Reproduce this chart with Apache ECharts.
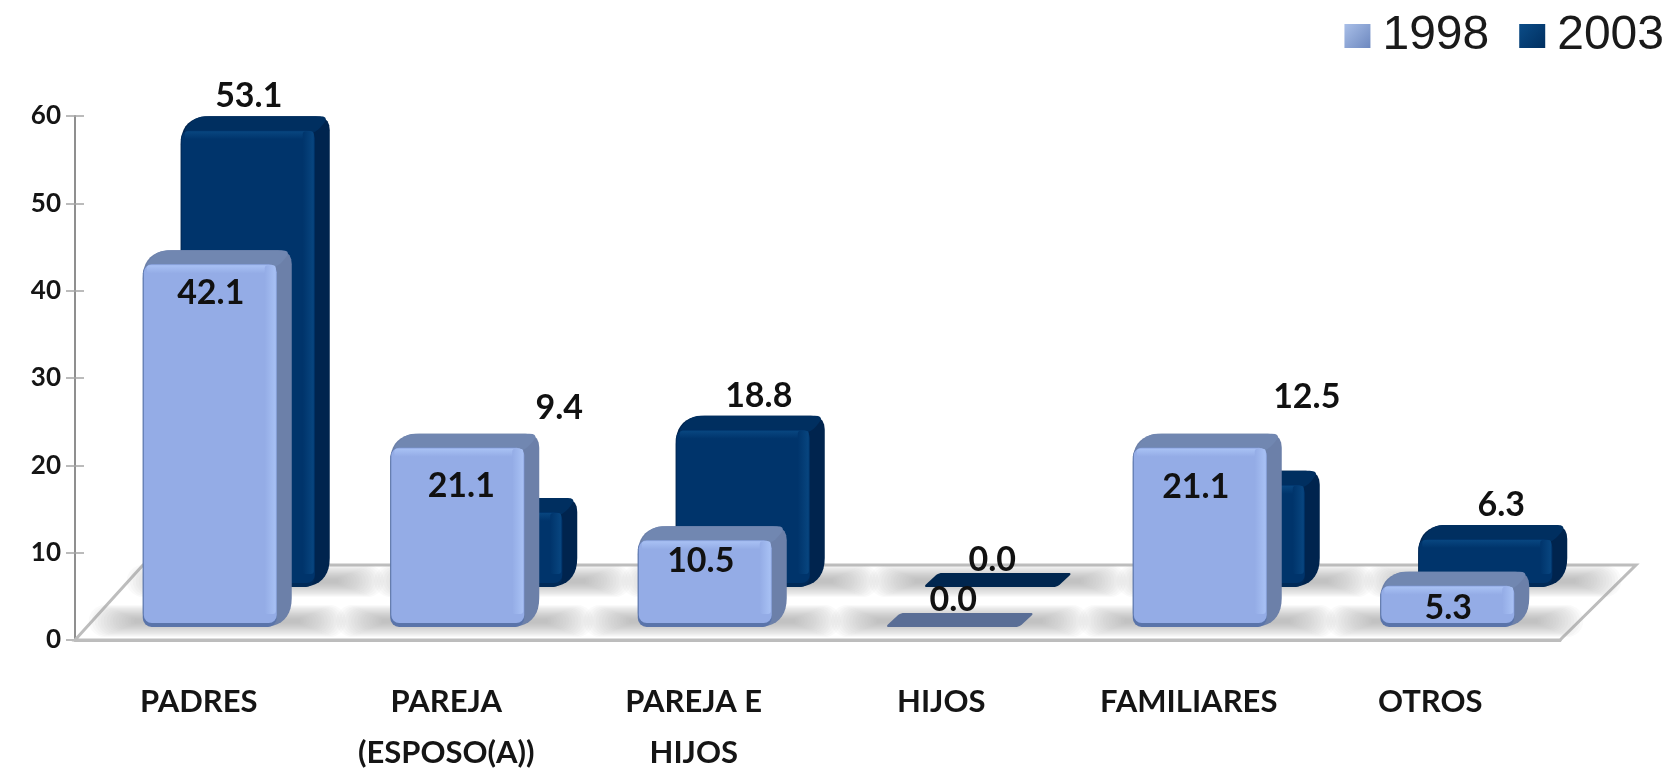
<!DOCTYPE html>
<html><head><meta charset="utf-8">
<style>html,body{margin:0;padding:0;background:#fff}#c{width:1680px;height:770px}</style>
<script src="https://cdn.jsdelivr.net/npm/echarts@6/dist/echarts.min.js"></script>
</head><body><div id="c"></div>
<script>
const categories = ['PADRES','PAREJA\n(ESPOSO(A))','PAREJA E\nHIJOS','HIJOS','FAMILIARES','OTROS'];
const values1998 = [42.1,21.1,10.5,0.0,21.1,5.3];
const values2003 = [53.1,9.4,18.8,0.0,12.5,6.3];
const yTicks = {min:0,max:60,interval:10};

// label nudges relative to the bar top/left (annotation placement, not data)
const labelDx1998 = [68,71,63,68,63,68];
const labelDy1998 = [43,52,35,-13,53,36];
const labelDx2003 = [68,131,83,69,136,83];
const labelDy2003 = [-20,-90,-20,-13,-74,-20];

const FONT = 'Lato, "Open Sans", sans-serif';
const theme1998 = {face:'#94ace6',hi:'#a8c1f4',top:'#7187b1',side:'#6c80a9',edge:'#5a74aa',slab:'#5a6e96'};
const theme2003 = {face:'#00346b',hi:'#084680',top:'#002f60',side:'#00244e',edge:'#002a58',slab:'#00264f'};
const W=134, D=15, DY=14;

function rounded(pts,r){
  const out=[],n=pts.length;
  for(let i=0;i<n;i++){
    const p=pts[i],a=pts[(i+n-1)%n],b=pts[(i+1)%n];
    const la=Math.hypot(a[0]-p[0],a[1]-p[1]),lb=Math.hypot(b[0]-p[0],b[1]-p[1]);
    const ra=Math.min(r,la/2)/la,rb=Math.min(r,lb/2)/lb;
    const s=[p[0]+(a[0]-p[0])*ra,p[1]+(a[1]-p[1])*ra],e=[p[0]+(b[0]-p[0])*rb,p[1]+(b[1]-p[1])*rb];
    for(let k=0;k<=5;k++){const t=k/5,u=1-t;
      out.push([u*u*s[0]+2*u*t*p[0]+t*t*e[0],u*u*s[1]+2*u*t*p[1]+t*t*e[1]]);}
  }
  return out;
}
function barRenderer(theme,xShift,yShift,baseShift,ldx,ldy){
  return function(params,api){
    const i=api.value(0),v=api.value(1);
    const c=api.coord([i,v]),z=api.coord([i,0]);
    const L=c[0]-56+xShift,R=L+W,S=R+D,B=z[1]+baseShift;
    const T=Math.min(c[1]+yShift,B-DY),F=T+DY;
    const children=[];
    if(v===0){
      children.push({type:'polygon',shape:{points:rounded([[L,B],[L+D,T],[S,T],[R,B]],4)},style:{fill:theme.slab}});
    }else{
      children.push({type:'polygon',shape:{points:rounded([[L,B],[L,F],[L+D,T],[S,T],[S,B-D],[R,B]],14)},style:{fill:theme.side}});
      children.push({type:'polygon',shape:{points:rounded([[L,F+4],[L+D,T],[S,T],[R,F+4]],10)},style:{fill:theme.top}});
      children.push({type:'rect',shape:{x:L,y:F,width:W,height:B-F,r:9},style:{fill:theme.edge}});
      children.push({type:'rect',shape:{x:L+1,y:F,width:W-1,height:B-F-4,r:8},style:{fill:theme.face}});
      children.push({type:'rect',shape:{x:L+4,y:F+1,width:W-6,height:8,r:3},style:{fill:{type:'linear',x:0,y:0,x2:0,y2:1,colorStops:[{offset:0,color:theme.hi},{offset:1,color:theme.face}]}}});
      children.push({type:'rect',shape:{x:R-12,y:F+1,width:11,height:Math.max(B-F-14,4),r:3},style:{fill:{type:'linear',x:0,y:0,x2:1,y2:0,colorStops:[{offset:0,color:theme.face},{offset:1,color:theme.hi}]}}});
    }
    children.push({type:'text',z2:5,style:{text:v.toFixed(1),x:L+ldx[i],y:T+ldy[i],align:'center',verticalAlign:'middle',fill:'#111',font:'bold 34px '+FONT}});
    return {type:'group',children};
  };
}
function shadowRenderer(xShift,baseShift){
  return function(params,api){
    const i=api.value(0);
    const z=api.coord([i,0]);
    const L=z[0]-56+xShift,B=z[1]+baseShift;
    const children=[];
    for(let k=0;k<16;k++){
      const h=32-k*1.8, ext=54-k*3;
      children.push({type:'rect',shape:{x:L-ext,y:B-6-h/2,width:W+D+2*ext,height:h,r:h/2},
        style:{fill:'rgba(150,150,150,0.05)'}});
    }
    return {type:'group',children};
  };
}
const idx=a=>a.map((v,i)=>[i,v]);
const chart=echarts.init(document.getElementById('c'),null,{renderer:'canvas'});
const common={type:'custom',coordinateSystem:'cartesian2d',encode:{x:0,y:1},animation:false,clip:false,silent:true};
chart.setOption({
  animation:false,
  backgroundColor:'#fff',
  legend:{right:11,top:7,itemWidth:26,itemHeight:24,itemGap:30,icon:'rect',selectedMode:false,
    textStyle:{fontFamily:'"Liberation Sans",Arial,sans-serif',fontSize:48,color:'#1a1a1a',padding:[0,0,0,7]},
    data:[
      {name:'1998',itemStyle:{color:{type:'linear',x:0,y:0,x2:1,y2:1,colorStops:[{offset:0,color:'#a9bfe8'},{offset:1,color:'#6d88bf'}]}}},
      {name:'2003',itemStyle:{color:{type:'linear',x:0,y:0,x2:1,y2:1,colorStops:[{offset:0,color:'#0b4c87'},{offset:1,color:'#002f60'}]}}}
    ]},
  grid:{left:75,top:116,width:1485,height:524,outerBoundsMode:'none',containLabel:false},
  xAxis:{type:'category',data:categories,boundaryGap:true,
    axisLine:{show:true,lineStyle:{color:'#bbbbbb',width:3}},axisTick:{show:false},
    axisLabel:{interval:0,margin:36,color:'#151515',fontFamily:FONT,fontSize:31,fontWeight:'bold',lineHeight:51,
      formatter:v=>v==='OTROS'?'{o|'+v+'}':v,
      rich:{o:{fontFamily:FONT,fontSize:31,fontWeight:'bold',color:'#151515',padding:[0,12,0,0]}}}},
  yAxis:[
    {type:'value',...yTicks,position:'left',splitLine:{show:false},
      axisLine:{show:true,lineStyle:{color:'#8f8f8f',width:2}},
      axisTick:{show:true,length:9,lineStyle:{color:'#a5a5a5',width:1.5}},
      axisLabel:{margin:14,color:'#151515',fontFamily:FONT,fontSize:26,fontWeight:'bold'}},
    {type:'value',...yTicks,position:'left',splitLine:{show:false},
      axisLine:{show:false},
      axisTick:{show:true,inside:true,length:9,lineStyle:{color:'#a5a5a5',width:1.5}},
      axisLabel:{show:false}}
  ],
  series:[
    {...common,name:'floor',data:[[0,0]],z:1,renderItem:(p,api)=>{
      const z0=api.coord([0,0]),cs=p.coordSys,x=cs.x,y=z0[1];
      const right=cs.x+cs.width;
      return {type:'polygon',shape:{points:[[x,y],[x+68,y-75],[right+76,y-75],[right,y]]},
        style:{fill:'#fff',stroke:'#bdbdbd',lineWidth:3}};
    }},
    {...common,name:'shadowBack',data:idx(values2003),z:2,renderItem:shadowRenderer(38,-53)},
    {...common,name:'shadowFront',data:idx(values1998),z:2,renderItem:shadowRenderer(0,-13)},
    {...common,name:'2003',data:idx(values2003),z:3,itemStyle:{color:'#00346b'},
      renderItem:barRenderer(theme2003,38,-60,-53,labelDx2003,labelDy2003)},
    {...common,name:'1998',data:idx(values1998),z:4,itemStyle:{color:'#94ace6'},
      renderItem:barRenderer(theme1998,0,-22,-13,labelDx1998,labelDy1998)}
  ]
});
</script></body></html>
